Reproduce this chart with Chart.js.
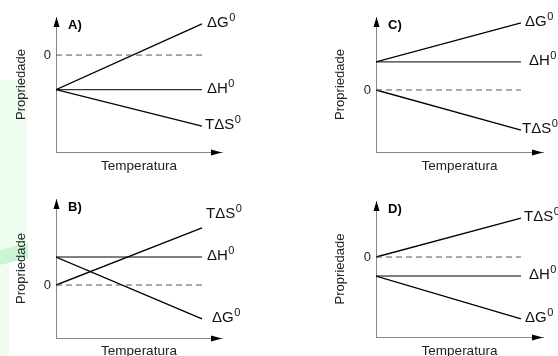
<!DOCTYPE html>
<html>
<head>
<meta charset="utf-8">
<script src="https://cdn.jsdelivr.net/npm/chart.js@4/dist/chart.umd.min.js"></script>
<style>
  body { margin: 0; width: 558px; height: 356px; overflow: hidden; background: #fff; position: relative; }
  .panel { position: absolute; }
  .green { position: absolute; background: #effdf1; }
  #greenBand { position: absolute; left: 0; top: 243px; width: 28px; height: 22px; background: #c9f5d4;
    clip-path: polygon(0 7px, 28px 0, 28px 15px, 0 22px); }
</style>
</head>
<body>
<div class="green" style="left:0;top:80px;width:27px;height:172px"></div>
<div class="green" style="left:0;top:250px;width:9px;height:106px"></div>
<div id="greenBand"></div>
<div class="panel" style="left:0;top:0"><canvas id="chartA" width="280" height="178"></canvas></div>
<div class="panel" style="left:280px;top:0"><canvas id="chartC" width="278" height="178"></canvas></div>
<div class="panel" style="left:0;top:178px"><canvas id="chartB" width="280" height="182"></canvas></div>
<div class="panel" style="left:280px;top:178px"><canvas id="chartD" width="278" height="182"></canvas></div>
<script>
'use strict';
let fontFamily = "'Liberation Sans', Arial, Helvetica, sans-serif";

// eixo x: inicio e fim das retas
let temperatura = [0, 1];
let zeroLine = [0, 0];
let yTicks = [0];

// A)
let aDeltaG = [-1, 0.9];
let aDeltaH = [-1, -1];
let aTDeltaS = [-1, -2.05];
// B)
let bTDeltaS = [0, 2.04];
let bDeltaH = [1, 1];
let bDeltaG = [1, -1.21];
// C)
let cDeltaG = [1, 2.39];
let cDeltaH = [1, 1];
let cTDeltaS = [0, -1.43];
// D)
let dTDeltaS = [0, 2.05];
let dDeltaH = [-1, -1];
let dDeltaG = [-1, -3.26];

function points(values) {
    return temperatura.map((t, i) => ({ x: t, y: values[i] }));
}

let endLabels = {
    id: 'endLabels',
    afterDatasetsDraw(chart) {
        let ctx = chart.ctx;
        chart.data.datasets.forEach((ds, i) => {
            if (!ds.label) return;
            let pts = chart.getDatasetMeta(i).data;
            let p = pts[pts.length - 1];
            let x = p.x + (ds.gap === undefined ? 5 : ds.gap);
            let y = p.y + (ds.dy || 0);
            ctx.save();
            ctx.fillStyle = '#111';
            ctx.textBaseline = 'middle';
            ctx.font = '15px ' + fontFamily;
            ctx.fillText(ds.label, x, y - 1);
            let w = ctx.measureText(ds.label).width;
            ctx.font = '11px ' + fontFamily;
            ctx.fillText('0', x + w + 0.5, y - 6);
            ctx.restore();
        });
    }
};

let axisArrows = {
    id: 'axisArrows',
    afterDraw(chart, args, opts) {
        let a = chart.chartArea;
        let ctx = chart.ctx;
        ctx.save();
        ctx.fillStyle = '#000';
        ctx.beginPath();
        ctx.moveTo(a.left + 0.5, a.top);
        ctx.lineTo(a.left - 2.5, a.top + 10);
        ctx.lineTo(a.left + 3.5, a.top + 10);
        ctx.closePath();
        ctx.fill();
        ctx.beginPath();
        ctx.moveTo(a.right, a.bottom + 0.5);
        ctx.lineTo(a.right - 11, a.bottom - 2.5);
        ctx.lineTo(a.right - 11, a.bottom + 3.5);
        ctx.closePath();
        ctx.fill();
        ctx.font = 'bold 13px ' + fontFamily;
        ctx.textBaseline = 'middle';
        ctx.fillText(opts.letter, a.left + 12, a.top + 8);
        ctx.restore();
    }
};

function makePanel(id, p) {
    let ctx = document.getElementById(id).getContext('2d');
    let datasets = [{
        label: '',
        data: points(zeroLine),
        borderColor: '#555',
        borderWidth: 1,
        borderDash: [6, 4]
    }];
    p.series.forEach(s => {
        datasets.push({
            label: s.label,
            data: points(s.values),
            borderColor: '#000',
            borderWidth: s.flat ? 1 : 1.3,
            gap: s.gap,
            dy: s.dy
        });
    });
    return new Chart(ctx, {
        type: 'line',
        data: { datasets: datasets },
        plugins: [endLabels, axisArrows],
        options: {
            responsive: false,
            animation: false,
            elements: { point: { radius: 0 }, line: { tension: 0 } },
            layout: { padding: { top: p.top, right: p.right, left: 0, bottom: 0 } },
            plugins: { legend: { display: false }, tooltip: { enabled: false }, axisArrows: { letter: p.letter } },
            scales: {
                x: {
                    type: 'linear',
                    min: 0,
                    max: p.xMax,
                    grid: { display: false, drawTicks: false },
                    ticks: { display: false },
                    border: { display: true, color: '#888', width: 1 },
                    title: { display: true, text: 'Temperatura', color: '#222', font: { size: 13.5, family: fontFamily }, padding: { top: 0, bottom: p.xTitlePad } },
                    afterFit: s => { s.height = p.xHeight; }
                },
                y: {
                    min: p.yMin,
                    max: p.yMax,
                    grid: { display: false, drawTicks: false },
                    border: { display: true, color: '#888', width: 1 },
                    afterBuildTicks: s => { s.ticks = yTicks.map(v => ({ value: v })); },
                    ticks: { color: '#222', padding: 5, font: { size: 13, family: fontFamily } },
                    title: { display: true, text: 'Propriedade', color: '#222', font: { size: 13, family: fontFamily }, padding: { top: p.yTitlePad, bottom: 0 } },
                    afterFit: s => { s.width = p.yWidth; }
                }
            }
        }
    });
}

makePanel('chartA', {
    letter: 'A)', top: 17, right: 58, xHeight: 26, yWidth: 56, xMax: 1.137, xTitlePad: 4, yTitlePad: 14,
    yMin: -2.8, yMax: 1.1,
    series: [
        { label: 'ΔG', values: aDeltaG },
        { label: 'ΔH', values: aDeltaH, flat: true },
        { label: 'TΔS', values: aTDeltaS, gap: 3 }
    ]
});

makePanel('chartC', {
    letter: 'C)', top: 17, right: 15, xHeight: 26, yWidth: 96, xMax: 1.152, xTitlePad: 4, yTitlePad: 53,
    yMin: -2.21, yMax: 2.6,
    series: [
        { label: 'ΔG', values: cDeltaG, gap: 4 },
        { label: 'ΔH', values: cDeltaH, flat: true, gap: 8 },
        { label: 'TΔS', values: cTDeltaS, gap: 1 }
    ]
});

makePanel('chartB', {
    letter: 'B)', top: 21, right: 58, xHeight: 22, yWidth: 56, xMax: 1.137, xTitlePad: 1, yTitlePad: 14,
    yMin: -1.89, yMax: 3.07,
    series: [
        { label: 'TΔS', values: bTDeltaS, gap: 4, dy: -13 },
        { label: 'ΔH', values: bDeltaH, flat: true },
        { label: 'ΔG', values: bDeltaG, gap: 10 }
    ]
});

makePanel('chartD', {
    letter: 'D)', top: 23, right: 15, xHeight: 23, yWidth: 96, xMax: 1.152, xTitlePad: 1, yTitlePad: 53,
    yMin: -4.21, yMax: 2.95,
    series: [
        { label: 'TΔS', values: dTDeltaS, gap: 3 },
        { label: 'ΔH', values: dDeltaH, flat: true, gap: 8 },
        { label: 'ΔG', values: dDeltaG, gap: 4 }
    ]
});
</script>
</body>
</html>
